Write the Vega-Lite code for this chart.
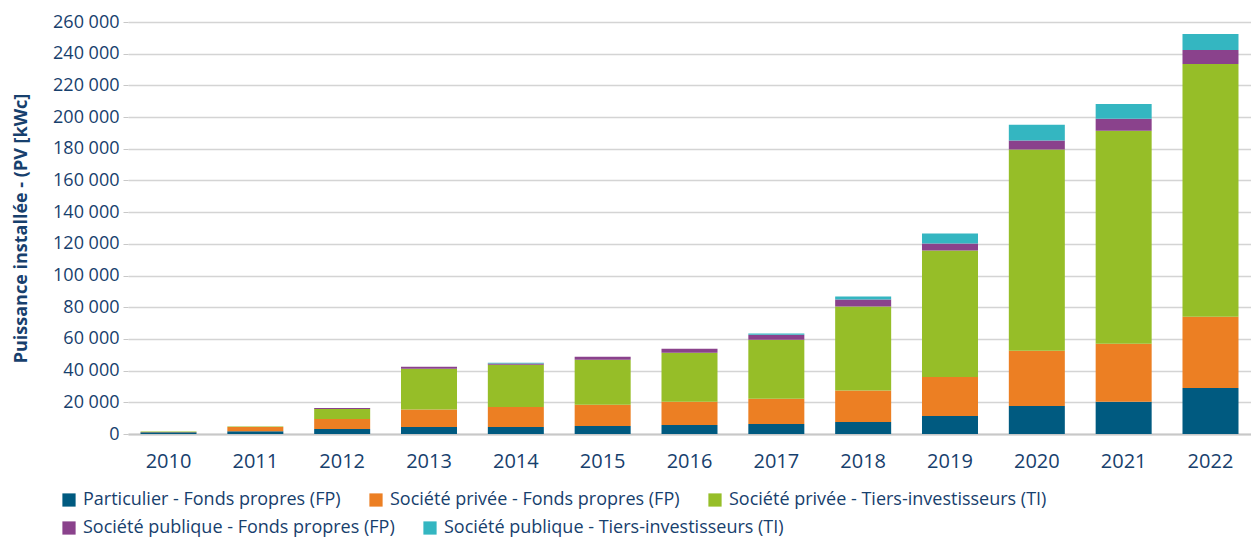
{
  "$schema": "https://vega.github.io/schema/vega-lite/v6.json",
  "width": 1123,
  "height": 412,
  "autosize": {"type": "none"},
  "padding": {"left": 128, "top": 22, "right": 0, "bottom": 105},
  "background": "white",
  "config": {
    "view": {"stroke": null},
    "font": "Open Sans",
    "locale": {"number": {"decimal": ",", "thousands": " ", "grouping": [3], "currency": ["", " €"]}}
  },
  "data": {
    "values": [
      {"annee": "2010", "cat": "Particulier - Fonds propres (FP)", "ordre": 1, "kwc": 1100},
      {"annee": "2010", "cat": "Société privée - Fonds propres (FP)", "ordre": 2, "kwc": 100},
      {"annee": "2010", "cat": "Société privée - Tiers-investisseurs (TI)", "ordre": 3, "kwc": 300},
      {"annee": "2010", "cat": "Société publique - Fonds propres (FP)", "ordre": 4, "kwc": 0},
      {"annee": "2010", "cat": "Société publique - Tiers-investisseurs (TI)", "ordre": 5, "kwc": 0},
      {"annee": "2011", "cat": "Particulier - Fonds propres (FP)", "ordre": 1, "kwc": 1800},
      {"annee": "2011", "cat": "Société privée - Fonds propres (FP)", "ordre": 2, "kwc": 2600},
      {"annee": "2011", "cat": "Société privée - Tiers-investisseurs (TI)", "ordre": 3, "kwc": 300},
      {"annee": "2011", "cat": "Société publique - Fonds propres (FP)", "ordre": 4, "kwc": 0},
      {"annee": "2011", "cat": "Société publique - Tiers-investisseurs (TI)", "ordre": 5, "kwc": 0},
      {"annee": "2012", "cat": "Particulier - Fonds propres (FP)", "ordre": 1, "kwc": 3200},
      {"annee": "2012", "cat": "Société privée - Fonds propres (FP)", "ordre": 2, "kwc": 6300},
      {"annee": "2012", "cat": "Société privée - Tiers-investisseurs (TI)", "ordre": 3, "kwc": 6300},
      {"annee": "2012", "cat": "Société publique - Fonds propres (FP)", "ordre": 4, "kwc": 600},
      {"annee": "2012", "cat": "Société publique - Tiers-investisseurs (TI)", "ordre": 5, "kwc": 0},
      {"annee": "2013", "cat": "Particulier - Fonds propres (FP)", "ordre": 1, "kwc": 4400},
      {"annee": "2013", "cat": "Société privée - Fonds propres (FP)", "ordre": 2, "kwc": 11000},
      {"annee": "2013", "cat": "Société privée - Tiers-investisseurs (TI)", "ordre": 3, "kwc": 25700},
      {"annee": "2013", "cat": "Société publique - Fonds propres (FP)", "ordre": 4, "kwc": 1300},
      {"annee": "2013", "cat": "Société publique - Tiers-investisseurs (TI)", "ordre": 5, "kwc": 0},
      {"annee": "2014", "cat": "Particulier - Fonds propres (FP)", "ordre": 1, "kwc": 4400},
      {"annee": "2014", "cat": "Société privée - Fonds propres (FP)", "ordre": 2, "kwc": 12700},
      {"annee": "2014", "cat": "Société privée - Tiers-investisseurs (TI)", "ordre": 3, "kwc": 26600},
      {"annee": "2014", "cat": "Société publique - Fonds propres (FP)", "ordre": 4, "kwc": 800},
      {"annee": "2014", "cat": "Société publique - Tiers-investisseurs (TI)", "ordre": 5, "kwc": 400},
      {"annee": "2015", "cat": "Particulier - Fonds propres (FP)", "ordre": 1, "kwc": 5100},
      {"annee": "2015", "cat": "Société privée - Fonds propres (FP)", "ordre": 2, "kwc": 13300},
      {"annee": "2015", "cat": "Société privée - Tiers-investisseurs (TI)", "ordre": 3, "kwc": 28400},
      {"annee": "2015", "cat": "Société publique - Fonds propres (FP)", "ordre": 4, "kwc": 1900},
      {"annee": "2015", "cat": "Société publique - Tiers-investisseurs (TI)", "ordre": 5, "kwc": 0},
      {"annee": "2016", "cat": "Particulier - Fonds propres (FP)", "ordre": 1, "kwc": 5700},
      {"annee": "2016", "cat": "Société privée - Fonds propres (FP)", "ordre": 2, "kwc": 14700},
      {"annee": "2016", "cat": "Société privée - Tiers-investisseurs (TI)", "ordre": 3, "kwc": 30900},
      {"annee": "2016", "cat": "Société publique - Fonds propres (FP)", "ordre": 4, "kwc": 2500},
      {"annee": "2016", "cat": "Société publique - Tiers-investisseurs (TI)", "ordre": 5, "kwc": 0},
      {"annee": "2017", "cat": "Particulier - Fonds propres (FP)", "ordre": 1, "kwc": 6300},
      {"annee": "2017", "cat": "Société privée - Fonds propres (FP)", "ordre": 2, "kwc": 16000},
      {"annee": "2017", "cat": "Société privée - Tiers-investisseurs (TI)", "ordre": 3, "kwc": 37200},
      {"annee": "2017", "cat": "Société publique - Fonds propres (FP)", "ordre": 4, "kwc": 3200},
      {"annee": "2017", "cat": "Société publique - Tiers-investisseurs (TI)", "ordre": 5, "kwc": 800},
      {"annee": "2018", "cat": "Particulier - Fonds propres (FP)", "ordre": 1, "kwc": 7600},
      {"annee": "2018", "cat": "Société privée - Fonds propres (FP)", "ordre": 2, "kwc": 19800},
      {"annee": "2018", "cat": "Société privée - Tiers-investisseurs (TI)", "ordre": 3, "kwc": 53000},
      {"annee": "2018", "cat": "Société publique - Fonds propres (FP)", "ordre": 4, "kwc": 4400},
      {"annee": "2018", "cat": "Société publique - Tiers-investisseurs (TI)", "ordre": 5, "kwc": 1900},
      {"annee": "2019", "cat": "Particulier - Fonds propres (FP)", "ordre": 1, "kwc": 11400},
      {"annee": "2019", "cat": "Société privée - Fonds propres (FP)", "ordre": 2, "kwc": 24600},
      {"annee": "2019", "cat": "Société privée - Tiers-investisseurs (TI)", "ordre": 3, "kwc": 79800},
      {"annee": "2019", "cat": "Société publique - Fonds propres (FP)", "ordre": 4, "kwc": 4400},
      {"annee": "2019", "cat": "Société publique - Tiers-investisseurs (TI)", "ordre": 5, "kwc": 6400},
      {"annee": "2020", "cat": "Particulier - Fonds propres (FP)", "ordre": 1, "kwc": 17700},
      {"annee": "2020", "cat": "Société privée - Fonds propres (FP)", "ordre": 2, "kwc": 34800},
      {"annee": "2020", "cat": "Société privée - Tiers-investisseurs (TI)", "ordre": 3, "kwc": 127100},
      {"annee": "2020", "cat": "Société publique - Fonds propres (FP)", "ordre": 4, "kwc": 5600},
      {"annee": "2020", "cat": "Société publique - Tiers-investisseurs (TI)", "ordre": 5, "kwc": 10000},
      {"annee": "2021", "cat": "Particulier - Fonds propres (FP)", "ordre": 1, "kwc": 20300},
      {"annee": "2021", "cat": "Société privée - Fonds propres (FP)", "ordre": 2, "kwc": 36700},
      {"annee": "2021", "cat": "Société privée - Tiers-investisseurs (TI)", "ordre": 3, "kwc": 134400},
      {"annee": "2021", "cat": "Société publique - Fonds propres (FP)", "ordre": 4, "kwc": 7500},
      {"annee": "2021", "cat": "Société publique - Tiers-investisseurs (TI)", "ordre": 5, "kwc": 9300},
      {"annee": "2022", "cat": "Particulier - Fonds propres (FP)", "ordre": 1, "kwc": 29100},
      {"annee": "2022", "cat": "Société privée - Fonds propres (FP)", "ordre": 2, "kwc": 44900},
      {"annee": "2022", "cat": "Société privée - Tiers-investisseurs (TI)", "ordre": 3, "kwc": 159500},
      {"annee": "2022", "cat": "Société publique - Fonds propres (FP)", "ordre": 4, "kwc": 8800},
      {"annee": "2022", "cat": "Société publique - Tiers-investisseurs (TI)", "ordre": 5, "kwc": 10100}
    ]
  },
  "transform": [
    {"stack": "kwc", "groupby": ["annee"], "sort": [{"field": "ordre", "order": "ascending"}], "as": ["y0", "y1"]}
  ],
  "encoding": {
    "x": {
      "field": "annee",
      "type": "nominal",
      "scale": {"paddingInner": 0.355, "paddingOuter": 0.144},
      "axis": {
        "title": null,
        "labelAngle": 0,
        "labelFont": "Open Sans",
        "labelFontSize": 20,
        "labelColor": "#17406d",
        "labelPadding": 17,
        "ticks": false,
        "domainColor": "#c8c8c8",
        "domainWidth": 2
      }
    },
    "y": {
      "field": "y0",
      "type": "quantitative",
      "scale": {"domain": [0, 260000], "nice": false},
      "axis": {
        "title": "Puissance installée - (PV [kWc]",
        "titleFont": "Open Sans",
        "titleFontSize": 18,
        "titleFontWeight": "bold",
        "titleColor": "#17406d",
        "titlePadding": 22,
        "values": [0, 20000, 40000, 60000, 80000, 100000, 120000, 140000, 160000, 180000, 200000, 220000, 240000, 260000],
        "format": ",d",
        "labelFont": "Open Sans",
        "labelFontSize": 18,
        "labelColor": "#17406d",
        "labelPadding": 4,
        "tickSize": 5,
        "tickColor": "#c8c8c8",
        "domain": false,
        "gridColor": "#d4d4d4",
        "gridWidth": 1.5
      }
    },
    "y2": {"field": "y1"}
  },
  "layer": [
    {
      "transform": [{"filter": "datum.ordre <= 3"}],
      "mark": {"type": "bar"},
      "encoding": {
        "color": {
          "field": "cat",
          "type": "nominal",
          "scale": {
            "domain": [
              "Particulier - Fonds propres (FP)",
              "Société privée - Fonds propres (FP)",
              "Société privée - Tiers-investisseurs (TI)"
            ],
            "range": ["#005a80", "#ec7f23", "#96be28"]
          },
          "legend": {
            "title": null,
            "orient": "none",
            "legendX": -68,
            "legendY": 469,
            "direction": "horizontal",
            "columnPadding": 26,
            "symbolType": "square",
            "symbolSize": 175,
            "symbolStrokeWidth": 0,
            "symbolOpacity": 1,
            "labelFont": "Open Sans",
            "labelFontSize": 18,
            "labelColor": "#17406d",
            "labelLimit": 0,
            "labelOffset": 5
          }
        }
      }
    },
    {
      "transform": [{"filter": "datum.ordre >= 4"}],
      "mark": {"type": "bar"},
      "encoding": {
        "color": {
          "field": "cat",
          "type": "nominal",
          "scale": {
            "domain": [
              "Société publique - Fonds propres (FP)",
              "Société publique - Tiers-investisseurs (TI)"
            ],
            "range": ["#8a428c", "#34b6c1"]
          },
          "legend": {
            "title": null,
            "orient": "none",
            "legendX": -68,
            "legendY": 497,
            "direction": "horizontal",
            "columnPadding": 26,
            "symbolType": "square",
            "symbolSize": 175,
            "symbolStrokeWidth": 0,
            "symbolOpacity": 1,
            "labelFont": "Open Sans",
            "labelFontSize": 18,
            "labelColor": "#17406d",
            "labelLimit": 0,
            "labelOffset": 5
          }
        }
      }
    }
  ],
  "resolve": {"scale": {"color": "independent"}, "legend": {"color": "independent"}}
}
